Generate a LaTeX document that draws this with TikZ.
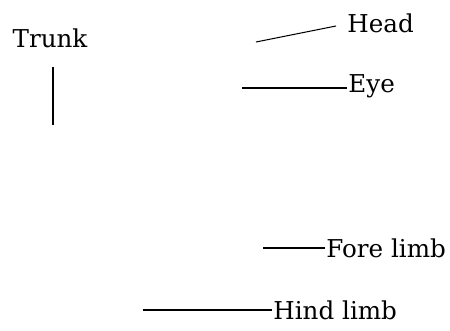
\documentclass[tikz,border=0pt]{standalone}
\usepackage{fontspec}
\setmainfont{DejaVu Serif}
\tikzset{part/.style={font=\fontsize{21}{25}\selectfont,inner sep=1pt,anchor=base west}}
\begin{document}
\begin{tikzpicture}[x=0.03cm,y=-0.03cm]
\useasboundingbox (0,0) rectangle (450,330);
\node[part,anchor=base] (trunk) at (50,47) {Trunk};
\node[part] (head) at (346,32) {Head};
\node[part] (eye) at (347,92) {Eye};
\node[part] (fore) at (325,257) {Fore limb};
\node[part] (hind) at (272,319) {Hind limb};
\coordinate (T1) at (53,67);
\coordinate (T2) at (53,125);
\coordinate (H1) at (256,42);
\coordinate (H2) at (336,26);
\coordinate (E) at (242,88);
\coordinate (F) at (263,248);
\coordinate (L) at (143,310);
\draw [line width=0.9pt] (T1) -- (T2);
\draw [line width=0.9pt] (H1) -- (H2);
\draw [line width=0.9pt] (E) -- (E -| eye.west);
\draw [line width=0.9pt] (F) -- (F -| fore.west);
\draw [line width=0.9pt] (L) -- (L -| hind.west);
\end{tikzpicture}
\end{document}
